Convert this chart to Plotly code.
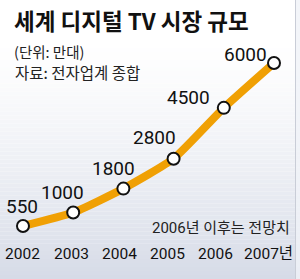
import plotly.graph_objects as go

years = [2002, 2003, 2004, 2005, 2006, 2007]
values = [550, 1000, 1800, 2800, 4500, 6000]
year_labels = ["2002", "2003", "2004", "2005", "2006", "2007년"]
value_labels = ["550", "1000", "1800", "2800", "4500", "6000"]
title_text = "세계 디지털 TV 시장 규모"
unit_text = "(단위: 만대)"
source_text = "자료: 전자업계 종합"
note_text = "2006년 이후는 전망치"

W, H = 300, 279
NUM = "Roboto, Noto Sans CJK KR, sans-serif"
CJK = "Noto Sans CJK KR, sans-serif"

fig = go.Figure()
fig.add_trace(go.Scatter(
    x=years, y=values, mode="lines+markers",
    line=dict(color="#f0a004", width=8, shape="spline", smoothing=0.5),
    marker=dict(size=12, color="white", line=dict(color="#111111", width=2)),
    hoverinfo="skip", showlegend=False,
))

shapes = []
N = 70
for i in range(N):
    y0 = i * H / N
    y1 = (i + 1) * H / N
    yc = (y0 + y1) / 2
    t = max(0.0, (yc - 40) / (H - 40)) ** 1.3
    r = round(255 - t * (255 - 214))
    g = round(255 - t * (255 - 219))
    b = round(255 - t * (255 - 231))
    shapes.append(dict(type="rect", xref="paper", yref="paper", layer="below",
                       x0=0, x1=1, y0=1 - y1 / H, y1=1 - y0 / H,
                       fillcolor=f"rgb({r},{g},{b})", line=dict(width=0)))
shapes.append(dict(type="rect", xref="paper", yref="paper", layer="below",
                   x0=296 / W, x1=1, y0=0, y1=1,
                   fillcolor="rgba(240,242,247,0.8)", line=dict(width=0)))
shapes.append(dict(type="line", xref="paper", yref="paper", layer="below",
                   x0=295.5 / W, x1=295.5 / W, y0=0, y1=1,
                   line=dict(color="#c9cdd7", width=1)))

ann = []
def px_y(py):
    return 1 - py / H

ann.append(dict(text=f"<b>{title_text}</b>", xref="paper", yref="paper",
                x=12 / W, y=px_y(20), xanchor="left", yanchor="middle",
                showarrow=False, font=dict(family=CJK, size=22.5, color="#111111")))
ann.append(dict(text=unit_text, xref="paper", yref="paper",
                x=12 / W, y=px_y(51), xanchor="left", yanchor="middle",
                showarrow=False, font=dict(family=CJK, size=14.5, color="#222222")))
ann.append(dict(text=source_text, xref="paper", yref="paper",
                x=13 / W, y=px_y(72), xanchor="left", yanchor="middle",
                showarrow=False, font=dict(family=CJK, size=15.5, color="#222222")))
ann.append(dict(text=note_text, xref="paper", yref="paper",
                x=292 / W, y=px_y(228), xanchor="right", yanchor="middle",
                showarrow=False, font=dict(family=NUM, size=15, color="#222222")))

year_shifts = [0, -2, -4, -6, -8, -6]
for yr, lab, dx in zip(years, year_labels, year_shifts):
    ann.append(dict(text=lab, xref="x", yref="paper", x=yr, y=px_y(254),
                    xanchor="center", yanchor="middle", showarrow=False,
                    xshift=dx,
                    font=dict(family=NUM, size=15.5, color="#111111")))

shifts = [(-1, 20), (-11, 20), (-10, 20), (-19, 21), (-35, 10), (-29, 9)]
for yr, v, lab, (dx, dy) in zip(years, values, value_labels, shifts):
    ann.append(dict(text=lab, xref="x", yref="y", x=yr, y=v,
                    xanchor="center", yanchor="middle", showarrow=False,
                    xshift=dx, yshift=dy,
                    font=dict(family=NUM, size=19, color="#111111")))

fig.update_layout(
    width=W, height=H, autosize=False,
    margin=dict(l=0, r=0, t=0, b=0),
    paper_bgcolor="white", plot_bgcolor="rgba(0,0,0,0)",
    xaxis=dict(range=[2001.542, 2007.518], visible=False, fixedrange=True),
    yaxis=dict(range=[-1222, 8106.5], visible=False, fixedrange=True),
    shapes=shapes, annotations=ann,
)

fig.write_html("out.html", config={"displayModeBar": False})
